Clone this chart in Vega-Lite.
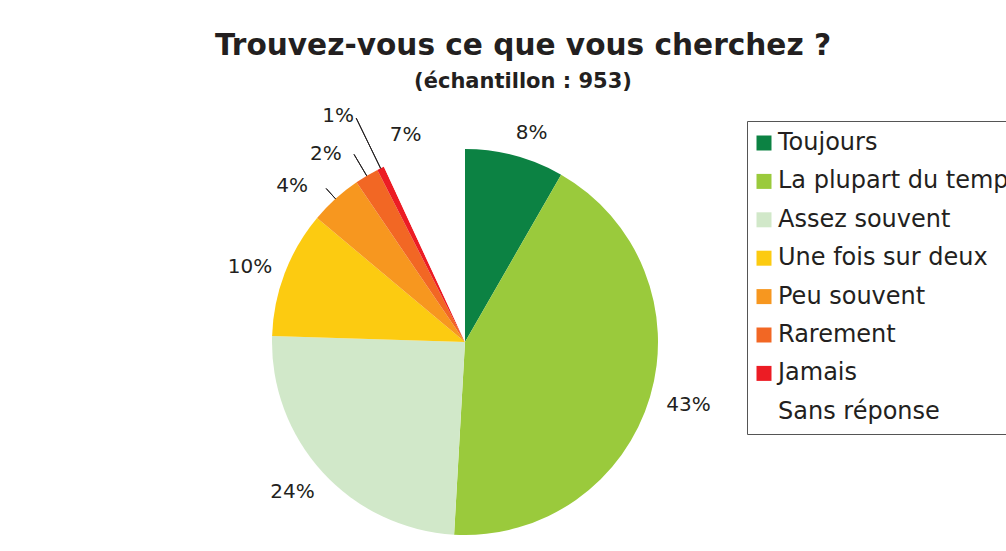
{
  "$schema": "https://vega.github.io/schema/vega-lite/v6.json",
  "autosize": "none",
  "width": 386,
  "height": 386,
  "padding": {"left": 272, "top": 149, "right": 348, "bottom": 16},
  "background": "white",
  "title": {
    "text": "Trouvez-vous ce que vous cherchez ?",
    "subtitle": "(échantillon : 953)",
    "anchor": "middle",
    "dx": 58,
    "offset": -7,
    "font": "DejaVu Sans",
    "fontSize": 29.6,
    "fontWeight": "bold",
    "color": "#231f20",
    "subtitleFont": "DejaVu Sans",
    "subtitleFontSize": 21,
    "subtitleFontWeight": "bold",
    "subtitleColor": "#231f20",
    "subtitlePadding": 10
  },
  "data": {
    "values": [
      {"reponse": "Toujours", "rang": 1, "valeur": 8.3, "etiquette": "8%"},
      {"reponse": "La plupart du temps", "rang": 2, "valeur": 42.6, "etiquette": "43%"},
      {"reponse": "Assez souvent", "rang": 3, "valeur": 24.6, "etiquette": "24%"},
      {"reponse": "Une fois sur deux", "rang": 4, "valeur": 10.6, "etiquette": "10%"},
      {"reponse": "Peu souvent", "rang": 5, "valeur": 4.4, "etiquette": "4%"},
      {"reponse": "Rarement", "rang": 6, "valeur": 2.0, "etiquette": "2%"},
      {"reponse": "Jamais", "rang": 7, "valeur": 0.6, "etiquette": "1%"},
      {"reponse": "Sans réponse", "rang": 8, "valeur": 6.9, "etiquette": "7%"}
    ]
  },
  "encoding": {
    "theta": {"field": "valeur", "type": "quantitative", "stack": true},
    "order": {"field": "rang", "type": "quantitative", "sort": "ascending"}
  },
  "layer": [
    {
      "mark": {"type": "arc", "stroke": null, "strokeWidth": 0},
      "encoding": {
        "color": {
          "field": "reponse",
          "type": "nominal",
          "sort": ["Toujours", "La plupart du temps", "Assez souvent", "Une fois sur deux", "Peu souvent", "Rarement", "Jamais", "Sans réponse"],
          "scale": {
            "domain": ["Toujours", "La plupart du temps", "Assez souvent", "Une fois sur deux", "Peu souvent", "Rarement", "Jamais", "Sans réponse"],
            "range": ["#0c8243", "#9aca3c", "#d1e8c9", "#fccb11", "#f7971f", "#f26724", "#ec1c24", "#ffffff"]
          },
          "legend": {
            "title": null,
            "orient": "none",
            "legendX": 475,
            "legendY": -28,
            "symbolType": "square",
            "symbolSize": 225,
            "symbolStrokeWidth": 0,
            "symbolOpacity": 1,
            "symbolOffset": -5,
            "labelFont": "DejaVu Sans",
            "labelFontSize": 24,
            "labelColor": "#231f20",
            "labelOffset": 2,
            "labelLimit": 400,
            "rowPadding": 14.4,
            "padding": 10,
            "strokeColor": "#555555",
            "fillColor": "white"
          }
        }
      }
    },
    {
      "mark": {"type": "arc", "padAngle": 0.6, "radius": 207, "radius2": 193, "fill": "transparent", "stroke": "#231f20", "strokeWidth": 1},
      "encoding": {
        "strokeOpacity": {"condition": {"test": "datum.reponse === 'Peu souvent'", "value": 1}, "value": 0}
      }
    },
    {
      "mark": {"type": "arc", "padAngle": 0.6, "radius": 218, "radius2": 193, "fill": "transparent", "stroke": "#231f20", "strokeWidth": 1},
      "encoding": {
        "strokeOpacity": {"condition": {"test": "datum.reponse === 'Rarement'", "value": 1}, "value": 0}
      }
    },
    {
      "mark": {"type": "arc", "padAngle": 0.6, "radius": 249, "radius2": 193, "fill": "transparent", "stroke": "#231f20", "strokeWidth": 1},
      "encoding": {
        "strokeOpacity": {"condition": {"test": "datum.reponse === 'Jamais'", "value": 1}, "value": 0}
      }
    },
    {
      "mark": {"type": "text", "font": "DejaVu Sans", "fontSize": 20, "color": "#231f20", "radius": 227, "dx": 8, "dy": 10},
      "encoding": {
        "text": {"condition": {"test": "datum.reponse === 'Toujours'", "field": "etiquette"}, "value": ""}
      }
    },
    {
      "mark": {"type": "text", "font": "DejaVu Sans", "fontSize": 20, "color": "#231f20", "radius": 227, "dx": 6, "dy": -2},
      "encoding": {
        "text": {"condition": {"test": "datum.reponse === 'La plupart du temps'", "field": "etiquette"}, "value": ""}
      }
    },
    {
      "mark": {"type": "text", "font": "DejaVu Sans", "fontSize": 20, "color": "#231f20", "radius": 227, "dx": -5, "dy": -3},
      "encoding": {
        "text": {"condition": {"test": "datum.reponse === 'Assez souvent'", "field": "etiquette"}, "value": ""}
      }
    },
    {
      "mark": {"type": "text", "font": "DejaVu Sans", "fontSize": 20, "color": "#231f20", "radius": 227, "dx": -3, "dy": 6},
      "encoding": {
        "text": {"condition": {"test": "datum.reponse === 'Une fois sur deux'", "field": "etiquette"}, "value": ""}
      }
    },
    {
      "mark": {"type": "text", "font": "DejaVu Sans", "fontSize": 20, "color": "#231f20", "radius": 216, "dx": -13, "dy": 4},
      "encoding": {
        "text": {"condition": {"test": "datum.reponse === 'Sans réponse'", "field": "etiquette"}, "value": ""}
      }
    },
    {
      "mark": {"type": "text", "font": "DejaVu Sans", "fontSize": 20, "color": "#231f20", "radius": 234, "dx": -16, "dy": 18},
      "encoding": {
        "text": {"condition": {"test": "datum.reponse === 'Peu souvent'", "field": "etiquette"}, "value": ""}
      }
    },
    {
      "mark": {"type": "text", "font": "DejaVu Sans", "fontSize": 20, "color": "#231f20", "radius": 234, "dx": -20, "dy": 13},
      "encoding": {
        "text": {"condition": {"test": "datum.reponse === 'Rarement'", "field": "etiquette"}, "value": ""}
      }
    },
    {
      "mark": {"type": "text", "font": "DejaVu Sans", "fontSize": 20, "color": "#231f20", "radius": 263, "dx": -12, "dy": 11},
      "encoding": {
        "text": {"condition": {"test": "datum.reponse === 'Jamais'", "field": "etiquette"}, "value": ""}
      }
    }
  ]
}
